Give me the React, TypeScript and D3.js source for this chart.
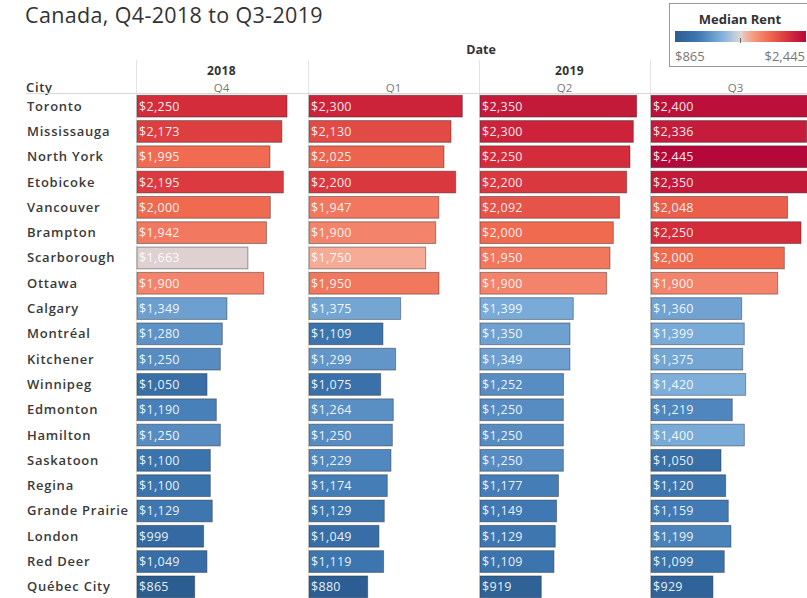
import React from "react";
import * as d3 from "d3";

const cities = ["Toronto","Mississauga","North York","Etobicoke","Vancouver","Brampton","Scarborough","Ottawa","Calgary","Montréal","Kitchener","Winnipeg","Edmonton","Hamilton","Saskatoon","Regina","Grande Prairie","London","Red Deer","Québec City"];
const quarters = ["Q4","Q1","Q2","Q3"];
const years = [{ year: "2018", from: 0, to: 0 }, { year: "2019", from: 1, to: 3 }];
const q4_2018 = [2250,2173,1995,2195,2000,1942,1663,1900,1349,1280,1250,1050,1190,1250,1100,1100,1129,999,1049,865];
const q1_2019 = [2300,2130,2025,2200,1947,1900,1750,1950,1375,1109,1299,1075,1264,1250,1229,1174,1129,1049,1119,880];
const q2_2019 = [2350,2300,2250,2200,2092,2000,1950,1900,1399,1350,1349,1252,1250,1250,1250,1177,1149,1129,1109,919];
const q3_2019 = [2400,2336,2445,2350,2048,2250,2000,1900,1360,1399,1375,1420,1219,1400,1050,1120,1159,1199,1099,929];
const series = [q4_2018, q1_2019, q2_2019, q3_2019];
const colorStops = [865, 1150, 1450, 1655, 1760, 2000, 2250, 2445];
const colorRange = ["#2b5d91", "#3f78b3", "#85b5df", "#ddd5d6", "#f7a78e", "#f06a50", "#d42c3b", "#b5083a"];

const W = 807, H = 598;
const panelX = [136, 308, 479, 650];
const panelW = 171;
const fmt = (v: number) => "$" + d3.format(",")(v);

export default function App() {
  const y = d3.scaleBand<string>().domain(cities).range([93.5, 599.5]).paddingInner(0.14).paddingOuter(0.07);
  const x = d3.scaleLinear().domain([0, 2565]).range([0, panelW]);
  const color = d3.scaleLinear<string>().domain(colorStops).range(colorRange).interpolate(d3.interpolateRgb).clamp(true);
  const font = "'Open Sans', 'Noto Sans', sans-serif";
  const legX0 = 675, legX1 = 806;
  const legScale = d3.scaleLinear().domain([865, 2445]).range([legX0, legX1]);
  const gradStops = d3.range(0, 1.0001, 0.05).map(t => {
    const v = 865 + t * (2445 - 865);
    return { off: t, c: color(v) };
  });
  return (
    <svg width={W} height={H} style={{ position: "absolute", left: 0, top: 0, background: "#fff" }} fontFamily={font}>
      <defs>
        <linearGradient id="lg" x1="0" x2="1" y1="0" y2="0">
          {gradStops.map((s, i) => <stop key={i} offset={s.off} stopColor={s.c} />)}
        </linearGradient>
      </defs>
      <text x={25} y={23} fontSize={21.5} fill="#333" letterSpacing={0.35}>Canada, Q4-2018 to Q3-2019</text>
      <text x={481} y={54} fontSize={12.5} fontWeight={700} fill="#333" textAnchor="middle">Date</text>
      {years.map(yr => {
        const cx = (panelX[yr.from] + panelX[yr.to] + panelW) / 2 + (yr.from === 0 ? 0 : 5);
        return <text key={yr.year} x={cx} y={75} fontSize={12} fontWeight={700} fill="#333" textAnchor="middle" letterSpacing={0.4}>{yr.year}</text>;
      })}
      {quarters.map((q, i) => (
        <text key={q} x={panelX[i] + panelW / 2} y={92} fontSize={11.5} fill="#777" textAnchor="middle">{q}</text>
      ))}
      <text x={26} y={92} fontSize={13} fontWeight={600} fill="#333" letterSpacing={0.7}>City</text>
      {panelX.map((px, i) => (
        <line key={"v" + i} x1={px + 0.5} x2={px + 0.5} y1={60} y2={H} stroke="#e4e4e4" />
      ))}
      <line x1={26} x2={W} y1={93.5} y2={93.5} stroke="#d8d8d8" />
      {cities.map((c) => (
        <text key={c} x={27} y={(y(c) as number) + y.bandwidth() / 2 + 4.5} fontSize={13} fontWeight={600} fill="#3a3a3a" letterSpacing={0.75}>{c}</text>
      ))}
      {series.map((vals, s) => (
        <g key={s} transform={`translate(${panelX[s] + 1},0)`}>
          {vals.map((v, r) => {
            const yy = y(cities[r]) as number;
            return (
              <g key={r}>
                <rect x={0} y={yy} width={x(v)} height={y.bandwidth()} fill={color(v)} stroke="rgba(40,40,40,0.45)" strokeWidth={1} />
                <text x={2} y={yy + y.bandwidth() / 2 + 4.5} fontSize={12.5} fill="#fff" fillOpacity={0.92} letterSpacing={0.3}>{fmt(v)}</text>
              </g>
            );
          })}
        </g>
      ))}
      <rect x={669.5} y={3.5} width={140} height={63} fill="#fff" stroke="#999" />
      <text x={740} y={24} fontSize={13} fontWeight={700} fill="#333" textAnchor="middle">Median Rent</text>
      <rect x={legX0} y={31} width={legX1 - legX0} height={11} fill="url(#lg)" />
      <line x1={legScale(1655)} x2={legScale(1655)} y1={38} y2={43} stroke="#666" />
      <text x={legX0} y={61} fontSize={13} fill="#777">$865</text>
      <text x={legX1 - 1} y={61} fontSize={13} fill="#777" textAnchor="end">$2,445</text>
    </svg>
  );
}
